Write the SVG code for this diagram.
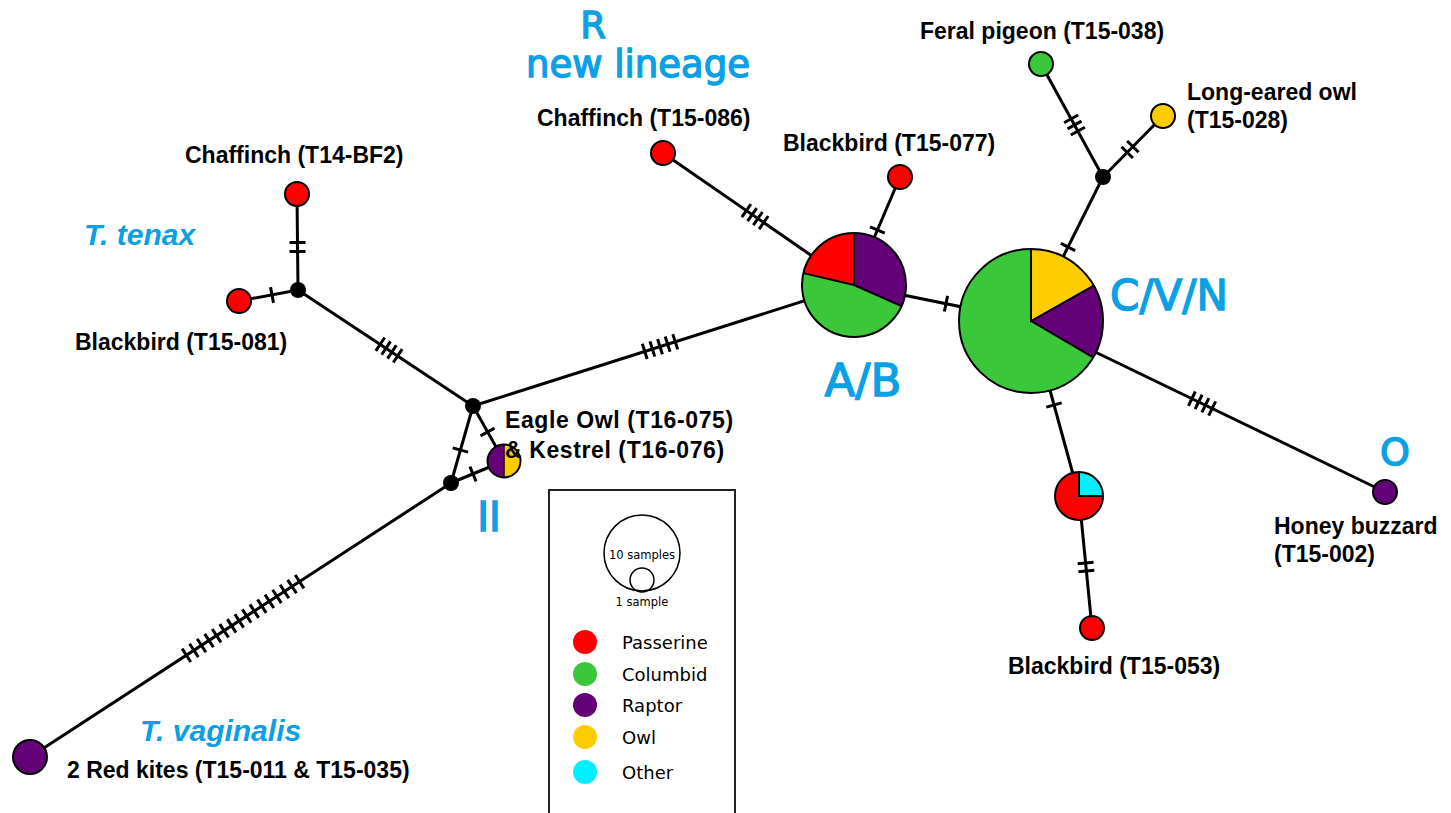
<svg xmlns="http://www.w3.org/2000/svg" width="1451" height="813" viewBox="0 0 1451 813">
<style>
.edge{stroke:#000;stroke-width:3;fill:none}
.tick{stroke:#000;stroke-width:3;fill:none}
.nd{stroke:#000;stroke-width:2}
.jn{fill:#000}
.lbl{font-family:"Liberation Sans",Arial,sans-serif;font-weight:bold;font-size:23px;fill:#000}
.grp{font-family:"DejaVu Sans",Verdana,sans-serif;fill:#0aa0e6;stroke:#0aa0e6;stroke-width:1.4}
.sp{font-family:"Liberation Sans",Arial,sans-serif;font-weight:bold;font-style:italic;font-size:30px;fill:#0aa0e6}
.leg{font-family:"DejaVu Sans",Verdana,sans-serif;font-size:18px;fill:#000}
.legs{font-family:"DejaVu Sans",Verdana,sans-serif;font-size:11.5px;fill:#000}
.pas{fill:#ff0000}.col{fill:#3ac83a}.rap{fill:#640078}.owl{fill:#ffcc00}.oth{fill:#00f0ff}
</style>
<rect width="1451" height="813" fill="#fff"/>
<g id="connectors">
<line class="edge" x1="30" y1="757" x2="451" y2="483"/>
<line class="edge" x1="451" y1="483" x2="473" y2="406"/>
<line class="edge" x1="451" y1="483" x2="504" y2="461"/>
<line class="edge" x1="473" y1="406" x2="504" y2="461"/>
<line class="edge" x1="473" y1="406" x2="298" y2="290"/>
<line class="edge" x1="298" y1="290" x2="297" y2="194"/>
<line class="edge" x1="298" y1="290" x2="239" y2="301"/>
<line class="edge" x1="473" y1="406" x2="854" y2="285"/>
<line class="edge" x1="854" y1="285" x2="663" y2="153"/>
<line class="edge" x1="854" y1="285" x2="900" y2="177"/>
<line class="edge" x1="854" y1="285" x2="1031" y2="321"/>
<line class="edge" x1="1031" y1="321" x2="1103" y2="177"/>
<line class="edge" x1="1103" y1="177" x2="1041" y2="64"/>
<line class="edge" x1="1103" y1="177" x2="1163" y2="116"/>
<line class="edge" x1="1031" y1="321" x2="1385" y2="492"/>
<line class="edge" x1="1031" y1="321" x2="1079" y2="496"/>
<line class="edge" x1="1079" y1="496" x2="1092" y2="628"/>
<g class="tick">
<path transform="translate(243,618.5) rotate(-33.06)" d="M-67.5,-8v16M-58.5,-8v16M-49.5,-8v16M-40.5,-8v16M-31.5,-8v16M-22.5,-8v16M-13.5,-8v16M-4.5,-8v16M4.5,-8v16M13.5,-8v16M22.5,-8v16M31.5,-8v16M40.5,-8v16M49.5,-8v16M58.5,-8v16M67.5,-8v16"/>
<path transform="translate(460.4,450) rotate(-74.25)" d="M0,-8v16"/>
<path transform="translate(473,474) rotate(-22.5)" d="M0,-8v16"/>
<path transform="translate(487.5,432) rotate(60.6)" d="M0,-8v16"/>
<path transform="translate(389,350) rotate(33.5)" d="M-10.5,-8v16M-3.5,-8v16M3.5,-8v16M10.5,-8v16"/>
<path transform="translate(297.5,247) rotate(90)" d="M-4.5,-8v16M4.5,-8v16"/>
<path transform="translate(272,295) rotate(-10.6)" d="M0,-8v16"/>
<path transform="translate(660,346.6) rotate(-17.6)" d="M-16,-8v16M-8,-8v16M0,-8v16M8,-8v16M16,-8v16"/>
<path transform="translate(755,216.6) rotate(34.65)" d="M-10.5,-8v16M-3.5,-8v16M3.5,-8v16M10.5,-8v16"/>
<path transform="translate(877.4,230) rotate(-66.9)" d="M0,-8v16"/>
<path transform="translate(946,303.7) rotate(11.5)" d="M0,-8v16"/>
<path transform="translate(1068,247) rotate(-63.4)" d="M0,-8v16"/>
<path transform="translate(1074.5,125) rotate(61.25)" d="M-7,-8v16M0,-8v16M7,-8v16"/>
<path transform="translate(1130,149.5) rotate(-45.5)" d="M-4,-8v16M4,-8v16"/>
<path transform="translate(1202,403.6) rotate(25.8)" d="M-11.25,-8v16M-3.75,-8v16M3.75,-8v16M11.25,-8v16"/>
<path transform="translate(1054,405) rotate(74.7)" d="M0,-8v16"/>
<path transform="translate(1086,567) rotate(84.4)" d="M-4,-8v16M4,-8v16"/>
</g>
</g>
<g id="node-redkites"><circle class="nd rap" cx="30" cy="757" r="17"/></g>
<g id="junction-bottom"><circle class="jn" cx="451" cy="483" r="8"/></g>
<g id="junction-top"><circle class="jn" cx="473" cy="406" r="8"/></g>
<g id="node-II">
<path class="rap" d="M504,461 L504,444.5 A16.5,16.5 0 0 0 504,477.5 Z"/>
<path class="owl" d="M504,461 L504,444.5 A16.5,16.5 0 0 1 504,477.5 Z"/>
<circle cx="504" cy="461" r="16.5" fill="none" stroke="#000" stroke-width="2"/>
<line x1="504" y1="444.5" x2="504" y2="477.5" stroke="#000" stroke-width="1.5"/>
</g>
<g id="junction-tenax"><circle class="jn" cx="298" cy="290" r="8"/></g>
<g id="node-chaffinch-bf2"><circle class="nd pas" cx="297" cy="194" r="12"/></g>
<g id="node-blackbird-081"><circle class="nd pas" cx="239" cy="301" r="12"/></g>
<g id="node-chaffinch-086"><circle class="nd pas" cx="663" cy="153" r="12"/></g>
<g id="node-blackbird-077"><circle class="nd pas" cx="900" cy="177" r="12"/></g>
<g id="node-AB">
<path class="col" d="M854,285 L901.5,306.2 A52,52 0 0 1 803.4,273.1 Z"/>
<path class="pas" d="M854,285 L803.4,273.1 A52,52 0 0 1 854,233 Z"/>
<path class="rap" d="M854,285 L854,233 A52,52 0 0 1 901.5,306.2 Z"/>
<path d="M803.4,273.1 L854,285 L901.5,306.2 M854,233 L854,285" fill="none" stroke="#000" stroke-width="2"/>
<circle cx="854" cy="285" r="52" fill="none" stroke="#000" stroke-width="2"/>
</g>
<g id="node-CVN">
<path class="col" d="M1031,321 L1093.1,357.4 A72,72 0 1 1 1031,249 Z"/>
<path class="owl" d="M1031,321 L1031,249 A72,72 0 0 1 1093.7,285.7 Z"/>
<path class="rap" d="M1031,321 L1093.7,285.7 A72,72 0 0 1 1093.1,357.4 Z"/>
<path d="M1031,249 L1031,321 L1093.7,285.7 M1031,321 L1093.1,357.4" fill="none" stroke="#000" stroke-width="2"/>
<circle cx="1031" cy="321" r="72" fill="none" stroke="#000" stroke-width="2"/>
</g>
<g id="junction-tr"><circle class="jn" cx="1103" cy="177" r="8"/></g>
<g id="node-pigeon"><circle class="nd col" cx="1041" cy="64" r="12"/></g>
<g id="node-longearedowl"><circle class="nd owl" cx="1163" cy="116" r="12"/></g>
<g id="node-other">
<path class="pas" d="M1079,496 L1103,496 A24,24 0 1 1 1079,472 Z"/>
<path class="oth" d="M1079,496 L1079,472 A24,24 0 0 1 1103,496 Z"/>
<path d="M1079,472 L1079,496 L1103,496" fill="none" stroke="#000" stroke-width="2"/>
<circle cx="1079" cy="496" r="24" fill="none" stroke="#000" stroke-width="2"/>
</g>
<g id="node-blackbird-053"><circle class="nd pas" cx="1092" cy="628" r="12"/></g>
<g id="node-honeybuzzard"><circle class="nd rap" cx="1385" cy="492" r="12"/></g>
<g id="labels">
<text class="grp" x="593" y="38" font-size="37" text-anchor="middle">R</text>
<text class="grp" x="638" y="77" font-size="37" text-anchor="middle">new lineage</text>
<text class="grp" x="1169" y="310" font-size="42" text-anchor="middle">C/V/N</text>
<text class="grp" x="863" y="396" font-size="45" text-anchor="middle">A/B</text>
<text class="grp" x="1395" y="465" font-size="38" text-anchor="middle">O</text>
<text class="grp" x="489" y="531" font-size="40" text-anchor="middle">II</text>
<text class="sp" x="84" y="245" font-size="31">T. tenax</text>
<text class="sp" x="140" y="741">T. vaginalis</text>
<text class="lbl" x="185" y="163">Chaffinch (T14-BF2)</text>
<text class="lbl" x="75" y="350">Blackbird (T15-081)</text>
<text class="lbl" x="537" y="126">Chaffinch (T15-086)</text>
<text class="lbl" x="783" y="151">Blackbird (T15-077)</text>
<text class="lbl" x="920" y="39">Feral pigeon (T15-038)</text>
<text class="lbl" x="1187" y="100">Long-eared owl</text>
<text class="lbl" x="1187" y="128">(T15-028)</text>
<text class="lbl" x="505" y="428" font-size="25" letter-spacing="0.6">Eagle Owl (T16-075)</text>
<text class="lbl" x="505" y="458" font-size="25" letter-spacing="0.6">&amp; Kestrel (T16-076)</text>
<text class="lbl" x="1274" y="534">Honey buzzard</text>
<text class="lbl" x="1274" y="562">(T15-002)</text>
<text class="lbl" x="1008" y="674">Blackbird (T15-053)</text>
<text class="lbl" x="67" y="778">2 Red kites (T15-011 &amp; T15-035)</text>
</g>
<g id="legend">
<rect x="549" y="490" width="186" height="340" fill="#fff" stroke="#222" stroke-width="2"/>
<circle cx="642" cy="553" r="38" fill="none" stroke="#000" stroke-width="1.5"/>
<circle cx="642" cy="580" r="12" fill="none" stroke="#000" stroke-width="1.5"/>
<text class="legs" x="642" y="559" text-anchor="middle">10 samples</text>
<text class="legs" x="642" y="606" text-anchor="middle">1 sample</text>
<circle class="pas" cx="585" cy="642" r="12"/>
<circle class="col" cx="585" cy="674" r="12"/>
<circle class="rap" cx="585" cy="705" r="12"/>
<circle class="owl" cx="585" cy="737" r="12"/>
<circle class="oth" cx="585" cy="772" r="12"/>
<text class="leg" x="622" y="649">Passerine</text>
<text class="leg" x="622" y="681">Columbid</text>
<text class="leg" x="622" y="712">Raptor</text>
<text class="leg" x="622" y="744">Owl</text>
<text class="leg" x="622" y="779">Other</text>
</g>
</svg>
